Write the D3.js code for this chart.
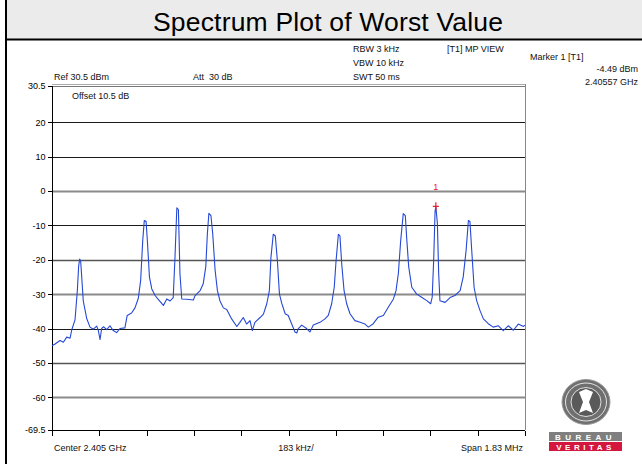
<!DOCTYPE html>
<html>
<head>
<meta charset="utf-8">
<script src="https://cdn.jsdelivr.net/npm/d3@7"></script>
<style>
  body { margin: 0; background: #fff; }
  svg text { font-family: "Liberation Sans", Arial, sans-serif; white-space: pre; }
  .axis path, .axis line { stroke: #000; shape-rendering: crispEdges; }
  .axis text { font-size: 9px; fill: #000; }
</style>
</head>
<body>
<div id="canvas"></div>
<script>
// DATA
const title = "Spectrum Plot of Worst Value";
const yTicks = [30.5, 20, 10, 0, -10, -20, -30, -40, -50, -60, -69.5];
const gridDark = [20, 10, -10, -40];
const gridMid = [-20, -50];
const gridLight = [0, -30, -60];
const xDivs = [0, 183, 366, 549, 732, 915, 1098, 1281, 1464, 1647, 1830]; // kHz from start
// trace: offset from start frequency (kHz), level (dBm)
const traceKHz = [0, 12, 31, 44, 57, 70, 76, 89, 98, 103, 107, 111, 115, 121, 134, 147, 160, 173, 179, 186,
  192, 199, 212, 224, 237, 250, 263, 282, 291, 308, 321, 334, 343, 351, 357, 364, 369, 377, 386, 399,
  411, 431, 444, 457, 469, 476, 483, 489, 495, 502, 521, 547, 553, 573, 585, 595, 601, 607, 615, 622,
  631, 640, 650, 663, 676, 695, 715, 727, 740, 753, 766, 775, 785, 805, 818, 831, 841, 847, 856, 864,
  872, 880, 889, 902, 914, 927, 940, 947, 953, 966, 985, 998, 1011, 1037, 1056, 1069, 1082, 1092, 1099, 1108,
  1114, 1121, 1130, 1140, 1153, 1172, 1192, 1211, 1224, 1243, 1262, 1282, 1301, 1321, 1331, 1340, 1349, 1359, 1367, 1372,
  1380, 1392, 1411, 1430, 1450, 1465, 1471, 1477, 1482, 1485, 1491, 1496, 1501, 1521, 1540, 1559, 1579, 1591, 1602, 1611,
  1617, 1624, 1633, 1643, 1656, 1669, 1688, 1707, 1727, 1746, 1765, 1785, 1804, 1824, 1830];
const traceDbm = [-45, -44.5, -43.5, -44, -42.5, -42.8, -40.5, -37.5, -29, -22, -19.8, -20.5, -25, -32, -37, -39.6, -40.2, -39.3, -40.5, -43.2,
  -40, -39.5, -40.3, -39.2, -40.6, -41.2, -40, -39.8, -36.2, -35.5, -34, -31.2, -26, -14.5, -8.6, -8.8, -14.5, -25, -28.5, -30.4,
  -31.5, -33.3, -31.4, -32, -31, -19, -4.9, -5.4, -24, -31.4, -31.5, -31.7, -30.5, -29, -27, -22, -12.6, -6.5, -7.2, -12.6,
  -23, -29, -32, -34, -34.5, -37.2, -39.4, -38.2, -36.8, -38.7, -37.7, -40.6, -38.2, -36.8, -35.8, -32.8, -29, -19.4, -12.6, -13.1,
  -20.3, -30, -32.7, -35.7, -36.2, -38.6, -41, -41.3, -40, -39, -40, -41, -39, -38.2, -37.2, -36.2, -32.8, -28, -20.3, -12.6,
  -13.1, -21.3, -29, -32.8, -35.7, -37.7, -38.2, -38.7, -39.6, -38.6, -36.7, -36.2, -33.8, -31.4, -29, -24, -14.5, -6.6, -7.2, -13.4,
  -22, -28, -30, -30.9, -31.9, -32.8, -30.9, -19.4, -6, -4.49, -9.4, -24, -31.9, -32.4, -31, -30.4, -29, -25, -17.4, -8.6,
  -8.9, -17.4, -28, -31.9, -34.8, -37.2, -38.6, -39.6, -39.2, -40.6, -39.2, -40.5, -38.7, -39.4, -39];
const markerKHz = 1485, markerDbm = -4.49;
const headerLeft = [["Ref 30.5 dBm", 54], ["Att  30 dB", 193]];
const settings = ["RBW 3 kHz", "VBW 10 kHz", "SWT 50 ms"];
const markerInfo = ["-4.49 dBm", "2.40557 GHz"];

// DIMENSIONS
const width = 642, height = 464;
const plot = { left: 52, right: 525, top: 86, bottom: 430 };

const svg = d3.select("#canvas").append("svg")
  .attr("width", width).attr("height", height);

// TITLE BAND
svg.append("rect").attr("x", 6).attr("y", 0).attr("width", width - 6).attr("height", 39)
  .attr("fill", "#ebebeb");
svg.append("line").attr("x1", 6).attr("x2", width).attr("y1", 39.5).attr("y2", 39.5)
  .attr("stroke", "#000").attr("stroke-width", 2);
svg.append("line").attr("x1", 6).attr("x2", 6).attr("y1", 0).attr("y2", height)
  .attr("stroke", "#000").attr("stroke-width", 2);
svg.append("text").attr("x", 328).attr("y", 31).attr("text-anchor", "middle")
  .attr("font-size", "26.5px").attr("textLength", 350).text(title);

// SCALES
const x = d3.scaleLinear().domain([0, 1830]).range([plot.left, plot.right]);
const y = d3.scaleLinear().domain([-69.5, 30.5]).range([plot.bottom, plot.top]);

// GRID
const grid = (vals, color, w) => svg.append("g").selectAll("line").data(vals).join("line")
  .attr("x1", plot.left).attr("x2", plot.right)
  .attr("y1", d => Math.round(y(d)) + 0.5).attr("y2", d => Math.round(y(d)) + 0.5)
  .attr("stroke", color).attr("stroke-width", w);
grid(gridLight, "#8a8a8a", 2);
grid(gridMid, "#555", 1.3);
grid(gridDark, "#1a1a1a", 1);

// frame top (double) and right
svg.append("line").attr("x1", plot.left).attr("x2", plot.right).attr("y1", plot.top - 1.5).attr("y2", plot.top - 1.5)
  .attr("stroke", "#aaa");
svg.append("line").attr("x1", plot.left).attr("x2", plot.right).attr("y1", plot.top + 0.5).attr("y2", plot.top + 0.5)
  .attr("stroke", "#777");
svg.append("line").attr("x1", plot.right + 0.5).attr("x2", plot.right + 0.5).attr("y1", plot.top - 2).attr("y2", plot.bottom)
  .attr("stroke", "#888");

// AXES
svg.append("g").attr("class", "axis")
  .attr("transform", `translate(${plot.left + 0.5},0)`)
  .call(d3.axisLeft(y).tickValues(yTicks).tickSize(5).tickPadding(2).tickFormat(d => d))
  .call(g => g.select(".domain").attr("d", `M0,${plot.top}V${plot.bottom}`));

svg.append("g").attr("class", "axis")
  .attr("transform", `translate(0,${plot.bottom + 0.5})`)
  .call(d3.axisBottom(x).tickValues(xDivs).tickSize(5).tickFormat(""))
  .call(g => g.select(".domain").attr("d", `M${plot.left},0H${plot.right}`));

// TRACE
const trace = traceKHz.map((k, i) => [k, traceDbm[i]]);
svg.append("path").datum(trace)
  .attr("fill", "none").attr("stroke", "#2548d6").attr("stroke-width", 1.1)
  .attr("stroke-linejoin", "round")
  .attr("d", d3.line().x(d => x(d[0])).y(d => y(d[1])));

// MARKER
const mx = x(markerKHz), my = y(markerDbm);
svg.append("path").attr("d", `M${mx},${my - 4}V${my + 4}M${mx - 3},${my}H${mx + 3}`)
  .attr("stroke", "#e8202a").attr("stroke-width", 1.2);
svg.append("text").attr("x", mx).attr("y", my - 16).attr("text-anchor", "middle")
  .attr("font-size", "9px").attr("fill", "#e8202a").text("1");

// HEADER TEXT
const small = (t, tx, ty, anchor) => svg.append("text").attr("x", tx).attr("y", ty)
  .attr("font-size", "9px").attr("fill", "#111").attr("text-anchor", anchor || "start").text(t);
headerLeft.forEach(([t, tx]) => small(t, tx, 80));
small("Offset 10.5 dB", 72, 99);
settings.forEach((t, i) => small(t, 353, 52 + i * 14));
small("[T1] MP VIEW", 447, 52);
small("Marker 1 [T1]", 530, 60);
markerInfo.forEach((t, i) => small(t, 638, 72 + i * 13, "end"));

// BOTTOM TEXT
small("Center 2.405 GHz", 54, 451);
small("183 kHz/", 296, 451, "middle");
small("Span 1.83 MHz", 523, 451, "end");

// LOGO
const logo = svg.append("g");
logo.append("ellipse").attr("cx", 586).attr("cy", 402).attr("rx", 24).attr("ry", 22.5)
  .attr("fill", "#6f6f6f").attr("stroke", "#999").attr("stroke-width", 1);
logo.append("ellipse").attr("cx", 586).attr("cy", 402).attr("rx", 20.5).attr("ry", 19)
  .attr("fill", "none").attr("stroke", "#fff").attr("stroke-width", 0.8);
logo.append("ellipse").attr("cx", 586).attr("cy", 402).attr("rx", 15).attr("ry", 14.5)
  .attr("fill", "#5a5a5a").attr("stroke", "#fff").attr("stroke-width", 0.8);
logo.append("path").attr("d", "M579,392 L586,389 L593,392 L589,402 L593,413 L586,410 L579,413 L583,402 Z")
  .attr("fill", "#fff");
logo.append("rect").attr("x", 549).attr("y", 432).attr("width", 73).attr("height", 9).attr("fill", "#7f7f7f");
logo.append("rect").attr("x", 549).attr("y", 442).attr("width", 73).attr("height", 9).attr("fill", "#d4173c");
logo.append("text").attr("x", 585.5).attr("y", 440).attr("text-anchor", "middle")
  .attr("font-size", "8px").attr("font-weight", "bold").attr("letter-spacing", "4.5px")
  .attr("fill", "#fff").text("BUREAU");
logo.append("text").attr("x", 585.5).attr("y", 450).attr("text-anchor", "middle")
  .attr("font-size", "8px").attr("font-weight", "bold").attr("letter-spacing", "3.5px")
  .attr("fill", "#fff").text("VERITAS");
</script>
</body>
</html>
